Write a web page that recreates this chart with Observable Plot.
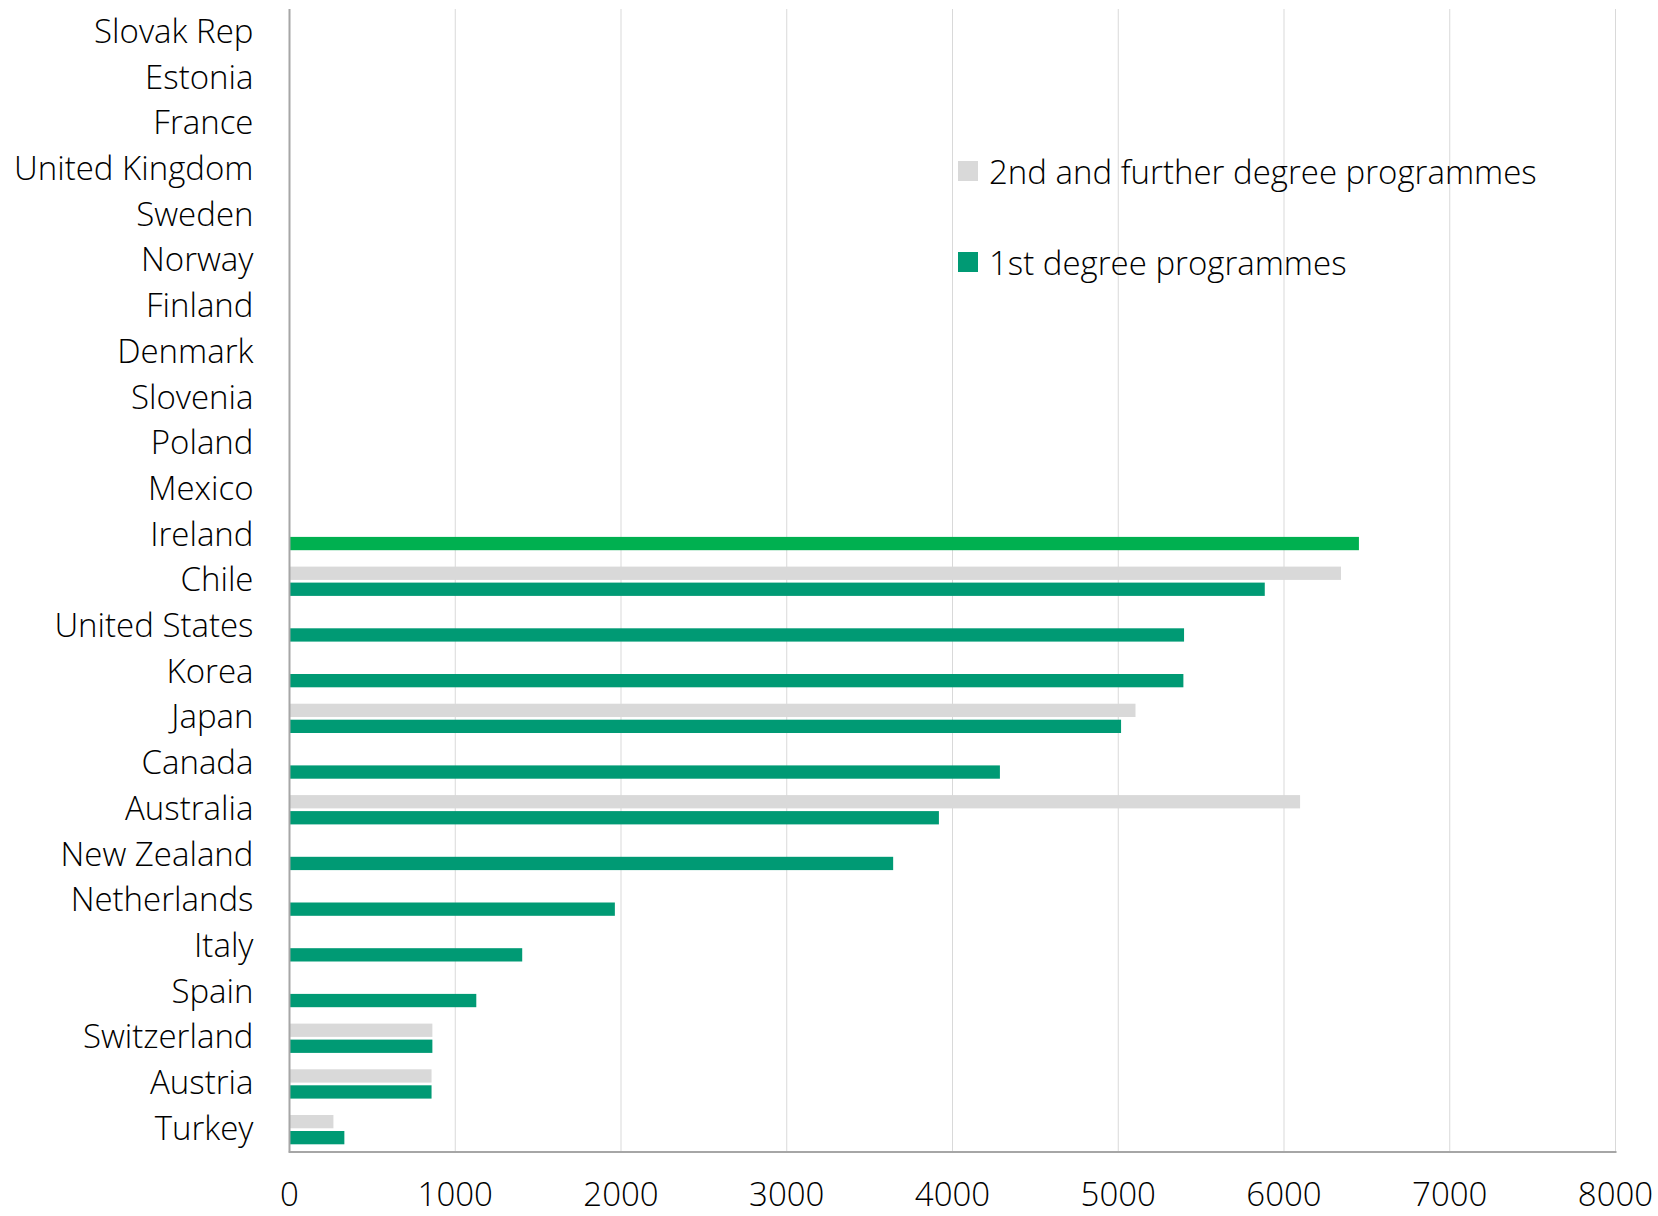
<!DOCTYPE html>
<html>
<head>
<meta charset="utf-8">
<script src="https://cdn.jsdelivr.net/npm/d3@7"></script>
<script src="https://cdn.jsdelivr.net/npm/@observablehq/plot@0.6"></script>
<style>
  html, body { margin: 0; padding: 0; background: #fff; }
  #wrap { position: relative; width: 1658px; height: 1216px; font-family: "Open Sans", Lato, sans-serif; }
  #legend { position: absolute; left: 958px; top: 150px; font-size: 33px; font-weight: 300; color: #000; }
  .item { display: flex; align-items: center; height: 42px; margin-bottom: 49px; white-space: nowrap; }
  .sw { width: 20px; height: 20px; margin-right: 11px; flex: none; }
</style>
</head>
<body>
<div id="wrap"></div>
<script>
const countries = ["Slovak Rep", "Estonia", "France", "United Kingdom", "Sweden", "Norway", "Finland", "Denmark", "Slovenia", "Poland", "Mexico", "Ireland", "Chile", "United States", "Korea", "Japan", "Canada", "Australia", "New Zealand", "Netherlands", "Italy", "Spain", "Switzerland", "Austria", "Turkey"];
const firstDegree = [null, null, null, null, null, null, null, null, null, null, null, 6455, 5887, 5400, 5396, 5020, 4289, 3921, 3645, 1966, 1407, 1130, 865, 860, 334];
const furtherDegree = [null, null, null, null, null, null, null, null, null, null, null, null, 6347, null, null, 5107, null, 6100, null, null, null, null, 865, 860, 268];
const xTicks = [0, 1000, 2000, 3000, 4000, 5000, 6000, 7000, 8000];
const seriesNames = ["2nd and further degree programmes", "1st degree programmes"];
const highlighted = "Ireland";

const colFurther = "#D9D9D9";
const colFirst = "#009A74";
const colHighlight = "#00B050";

const rows = countries.map((c, i) => ({country: c, first: firstDegree[i], further: furtherDegree[i]}));

const chart = Plot.plot({
  width: 1658,
  height: 1216,
  marginLeft: 289,
  marginRight: 43,
  marginTop: 9,
  marginBottom: 64.5,
  style: {fontFamily: "'Open Sans', Lato, sans-serif", fontSize: "33px", fontWeight: 300, color: "#000", background: "#fff", overflow: "visible"},
  x: {domain: [0, 8000], label: null},
  y: {domain: countries, padding: 0, round: false, label: null},
  marks: [
    Plot.gridX(xTicks.filter(t => t > 0), {stroke: "#D9D9D9", strokeOpacity: 1, strokeWidth: 1}),
    Plot.barX(rows.filter(d => d.further != null), {x: "further", y: "country", fill: colFurther, insetTop: 9.2, insetBottom: 23.2}),
    Plot.barX(rows.filter(d => d.first != null), {x: "first", y: "country", fill: d => d.country === highlighted ? colHighlight : colFirst, insetTop: 25.2, insetBottom: 7.2}),
    Plot.ruleX([0], {stroke: "#A6A6A6", strokeWidth: 2}),
    Plot.frame({anchor: "bottom", stroke: "#A6A6A6", strokeWidth: 2}),
    Plot.axisX({ticks: xTicks, tickSize: 0, tickPadding: 31, tickFormat: d => String(d), label: null, fill: "#000"}),
    Plot.axisY({tickSize: 0, tickPadding: 36, label: null, fill: "#000"})
  ]
});

const wrap = document.getElementById("wrap");
wrap.appendChild(chart);

const legend = document.createElement("div");
legend.id = "legend";
[[seriesNames[0], colFurther], [seriesNames[1], colFirst]].forEach(([name, col]) => {
  const it = document.createElement("div");
  it.className = "item";
  const sw = document.createElement("span");
  sw.className = "sw";
  sw.style.background = col;
  const tx = document.createElement("span");
  tx.textContent = name;
  it.appendChild(sw);
  it.appendChild(tx);
  legend.appendChild(it);
});
wrap.appendChild(legend);
</script>
</body>
</html>
